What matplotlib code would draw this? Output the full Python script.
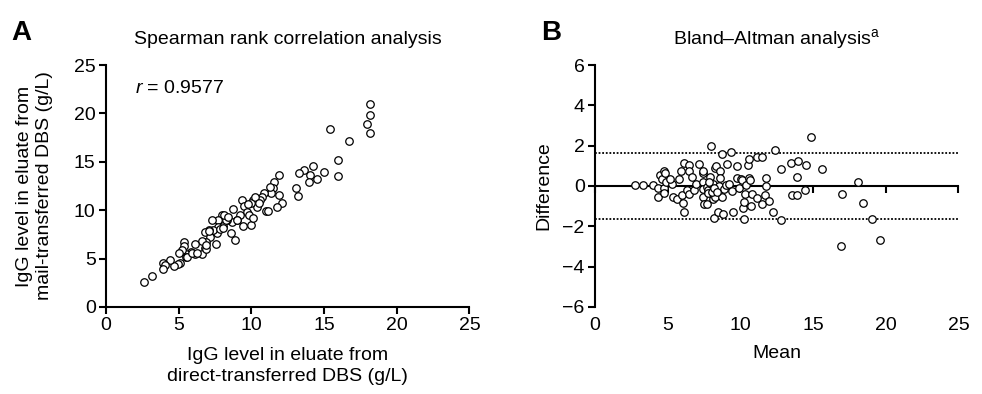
import matplotlib
matplotlib.use("Agg")
import matplotlib.pyplot as plt
import numpy as np

plt.rcParams['font.family'] = ['Liberation Sans', 'DejaVu Sans']
plt.rcParams['mathtext.fontset'] = 'custom'
plt.rcParams['mathtext.rm'] = 'Liberation Sans'
plt.rcParams['mathtext.it'] = 'Liberation Sans:italic'

# Panel A: IgG (g/L), direct-transferred vs mail-transferred DBS
direct = [18.16, 18.16, 17.97, 18.16, 15.39, 16.7, 15.94, 15.97, 14.98, 14.52,
          14.24, 14.0, 13.96, 13.64, 13.3, 13.09, 13.2, 11.87, 11.57, 11.47,
          11.38, 11.9, 12.14, 11.77, 10.9, 10.74, 10.6, 10.37, 11.0, 11.13,
          10.14, 10.0, 9.38, 9.5, 9.7, 9.86, 10.0, 10.14, 9.24, 9.4,
          8.99, 8.73, 8.69, 8.57, 8.87, 8.3, 8.06, 7.97, 7.67, 7.3,
          7.72, 7.6, 7.37, 7.1, 6.84, 7.14, 6.87, 7.56, 6.84, 6.57,
          6.15, 6.59, 6.13, 5.85, 5.48, 5.39, 5.35, 5.23, 5.48, 5.0,
          5.07, 4.98, 4.65, 4.42, 3.92, 4.06, 3.92, 3.18, 2.6, 5.6,
          5.92, 6.24, 6.89, 6.91, 7.05, 7.85, 8.06, 8.25, 9.03, 8.11,
          8.41, 9.79, 10.25, 10.51, 11.29]
mail = [20.93, 19.79, 18.9, 18.0, 18.38, 17.1, 15.14, 13.55, 13.97, 13.24,
        14.52, 13.6, 12.9, 14.1, 13.8, 12.3, 11.5, 13.6, 12.9, 12.24,
        11.8, 11.55, 10.7, 10.3, 11.8, 11.38, 11.0, 10.3, 9.9, 9.9,
        11.1, 10.7, 11.0, 10.45, 9.83, 9.55, 8.45, 9.14, 9.48, 8.38,
        8.97, 10.07, 8.8, 7.69, 6.9, 8.97, 8.38, 9.45, 8.97, 8.97,
        8.28, 7.6, 7.93, 8.0, 7.76, 7.24, 6.72, 6.5, 6.14, 6.8,
        6.55, 5.45, 5.5, 5.66, 5.5, 6.76, 6.28, 5.93, 5.17, 5.59,
        4.59, 4.45, 4.24, 4.83, 4.55, 4.31, 3.97, 3.17, 2.59, 5.2,
        5.61, 5.55, 6.02, 6.4, 7.8, 8.1, 8.2, 8.95, 8.95, 9.48,
        9.31, 10.59, 11.38, 10.69, 12.41]
r_value = 0.9577

# Panel B: Bland-Altman mean and difference
ba_mean = [2.73, 3.3, 4.01, 4.31, 4.31, 4.47, 4.59, 4.72, 4.84, 4.75,
           4.75, 4.89, 5.28, 5.14, 5.34, 5.78, 5.94, 5.67, 6.0, 6.08,
           6.15, 6.15, 6.31, 6.44, 6.49, 6.49, 6.7, 6.79, 6.93, 7.13,
           7.41, 7.45, 7.41, 7.45, 7.45, 7.5, 7.68, 7.68, 7.75, 7.89,
           7.96, 8.0, 8.03, 8.14, 8.1, 8.19, 8.23, 8.35, 8.28, 8.44,
           8.51, 8.6, 8.62, 8.72, 8.76, 8.81, 8.88, 9.01, 9.08, 9.2,
           9.36, 9.45, 9.5, 9.75, 9.79, 9.93, 10.05, 10.09, 10.2, 10.28,
           10.28, 10.32, 10.41, 10.5, 10.6, 10.6, 10.64, 10.71, 10.8, 11.15,
           11.15, 11.45, 11.51, 11.67, 11.77, 11.79, 11.95, 12.27, 12.39, 12.78,
           12.78, 13.51, 13.58, 13.88, 13.92, 13.94, 14.45, 14.52, 14.84, 15.6,
           17.0, 16.95, 18.12, 18.46, 19.04, 19.59, 7.8, 8.03, 8.19, 8.37,
           7.84]
ba_diff = [0.03, 0.03, 0.03, -0.12, -0.55, 0.55, 0.36, 0.73, 0.63, -0.12,
           -0.36, 0.18, 0.08, 0.33, -0.53, 0.35, 0.74, -0.66, -0.45, -0.86,
           -1.29, 1.14, -0.2, -0.38, 1.02, 0.74, 0.45, -0.2, 0.12, 1.07,
           0.63, 0.74, 0.21, -0.15, -0.56, -0.89, -0.91, -0.03, -0.2, 0.46,
           0.1, 1.97, -0.41, 0.08, -0.64, -1.57, 0.88, 1.0, -0.53, -1.27,
           0.0, 0.74, 0.38, 1.6, -0.55, -1.39, -0.17, 0.05, 1.07, 0.08,
           1.67, -0.23, -1.31, 0.99, 0.4, -0.12, 0.36, 0.3, -1.11, -1.64,
           -0.78, -0.4, 0.05, 1.02, 1.32, 0.38, 0.28, -0.98, -0.41, -0.58,
           1.45, -0.89, 1.45, -0.45, 0.0, 0.38, -0.76, -1.31, 1.77, 0.83,
           -1.7, 1.12, -0.43, 0.46, -0.43, 1.26, -0.21, 1.06, 2.45, 0.84,
           -0.4, -2.98, 0.21, -0.83, -1.62, -2.69, -0.36, -0.28, -0.08, -0.28,
           0.21]
loa = 1.64

fs = 14
lw = 1.5
mk = dict(marker='o', ms=5.4, mfc='white', mec='black', mew=0.9, ls='none')

fig = plt.figure(figsize=(9.82, 3.94), dpi=100)
axA = fig.add_axes([0.108, 0.221, 0.370, 0.614])
axB = fig.add_axes([0.606, 0.221, 0.370, 0.614])

for ax in (axA, axB):
    for s in ('top', 'right'):
        ax.spines[s].set_visible(False)
    for s in ('left', 'bottom'):
        ax.spines[s].set_linewidth(lw)
    ax.tick_params(width=lw, length=5, labelsize=fs, direction='out', pad=2.5)

# Panel A
axA.plot(direct, mail, **mk, clip_on=False)
axA.set_xlim(0, 25)
axA.set_ylim(0, 25)
axA.set_xticks(np.arange(0, 26, 5))
axA.set_yticks(np.arange(0, 26, 5))
axA.text(2.0, 22.6, r'$\it{r}$ = ' + f'{r_value}', fontsize=fs, va='center')
axA.set_xlabel('IgG level in eluate from\ndirect-transferred DBS (g/L)', fontsize=fs,
               labelpad=9, linespacing=1.3)
axA.set_ylabel('IgG level in eluate from\nmail-transferred DBS (g/L)', fontsize=fs,
               labelpad=15, linespacing=1.25)
axA.set_title('Spearman rank correlation analysis', fontsize=fs, pad=15)

# Panel B
axB.axhline(loa, color='black', lw=1.3, ls=(0, (1, 1)), zorder=1)
axB.axhline(-loa, color='black', lw=1.3, ls=(0, (1, 1)), zorder=1)
axB.plot(ba_mean, ba_diff, **mk, zorder=3)
axB.set_xlim(0, 25)
axB.set_ylim(-6, 6)
axB.set_xticks(np.arange(0, 26, 5))
axB.set_yticks(np.arange(-6, 7, 2))
axB.spines['bottom'].set_visible(False)
axB.tick_params(axis='x', length=0, pad=7.5)
zero = axB.secondary_xaxis(0.5)
zero.set_xticks(np.arange(0, 26, 5))
zero.tick_params(width=lw, length=5, direction='in', labeltop=False, labelbottom=False)
for s in zero.spines.values():
    s.set_linewidth(lw)
axB.set_xlabel('Mean', fontsize=fs, labelpad=8)
axB.set_ylabel('Difference', fontsize=fs, labelpad=7)
axB.set_title(r'Bland–Altman analysis$^{\mathrm{a}}$', fontsize=fs, pad=15)

fig.text(0.012, 0.915, 'A', fontsize=20, fontweight='bold', va='center')
fig.text(0.551, 0.915, 'B', fontsize=20, fontweight='bold', va='center')

fig.savefig('out.png', dpi=100)
